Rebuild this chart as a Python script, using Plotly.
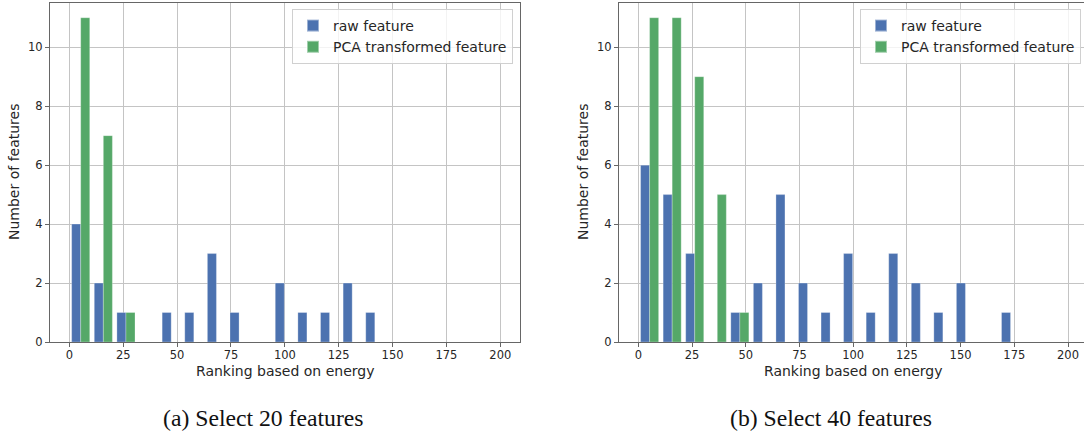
import plotly.graph_objects as go

# ---- data (histogram counts, 20 bins of width 10.5 starting at 0) ----
BIN_WIDTH = 10.5
N_BINS = 20
bin_centers = [BIN_WIDTH * i + BIN_WIDTH / 2 for i in range(N_BINS)]

left_raw = [4, 2, 1, 0, 1, 1, 3, 1, 0, 2, 1, 1, 2, 1, 0, 0, 0, 0, 0, 0]
left_pca = [11, 7, 1, 0, 0, 0, 0, 0, 0, 0, 0, 0, 0, 0, 0, 0, 0, 0, 0, 0]
right_raw = [6, 5, 3, 0, 1, 2, 5, 2, 1, 3, 1, 3, 2, 1, 2, 0, 1, 0, 0, 0]
right_pca = [11, 11, 9, 5, 1, 0, 0, 0, 0, 0, 0, 0, 0, 0, 0, 0, 0, 0, 0, 0]

x_ticks = [0, 25, 50, 75, 100, 125, 150, 175, 200]
y_ticks = [0, 2, 4, 6, 8, 10]
series_names = ["raw feature", "PCA transformed feature"]
captions = ["(a) Select 20 features", "(b) Select 40 features"]
x_title = "Ranking based on energy"
y_title = "Number of features"

BLUE = "#4C72B0"
GREEN = "#55A868"
W, H = 1084, 434

def nz(v):
    return [c if c != 0 else None for c in v]

edge = dict(width=0.6, color="rgba(255,255,255,0.45)")
fig = go.Figure()
fig.add_trace(go.Bar(x=bin_centers, y=nz(left_raw), name=series_names[0], marker_color=BLUE,
                     offsetgroup="a", xaxis="x", yaxis="y", legend="legend", marker_line=edge))
fig.add_trace(go.Bar(x=bin_centers, y=nz(left_pca), name=series_names[1], marker_color=GREEN,
                     offsetgroup="b", xaxis="x", yaxis="y", legend="legend", marker_line=edge))
fig.add_trace(go.Bar(x=bin_centers, y=nz(right_raw), name=series_names[0], marker_color=BLUE,
                     offsetgroup="a", xaxis="x2", yaxis="y2", legend="legend2", marker_line=edge))
fig.add_trace(go.Bar(x=bin_centers, y=nz(right_pca), name=series_names[1], marker_color=GREEN,
                     offsetgroup="b", xaxis="x2", yaxis="y2", legend="legend2", marker_line=edge))

TEXT = "#262626"
SPINE = "#666666"
GRID = "#c4c4c4"
tickfont = dict(family="DejaVu Sans", size=11.5, color=TEXT)

y_dom = [1 - 342 / H, 1 - 3 / H]
axis_common = dict(showgrid=True, gridcolor=GRID, gridwidth=1, zeroline=False,
                   showline=True, linecolor=SPINE, linewidth=1.2,
                   ticks="outside", ticklen=4, tickcolor=SPINE, tickwidth=1,
                   tickfont=tickfont, automargin=False)
xaxis_extra = dict(ticklabelstandoff=-2)

legend_common = dict(yanchor="top", xanchor="right",
                     bgcolor="rgba(255,255,255,0.8)", bordercolor="#d0d0d0", borderwidth=1,
                     font=dict(family="DejaVu Sans", size=14, color=TEXT),
                     tracegroupgap=0, itemsizing="constant")

fig.update_layout(
    width=W, height=H,
    margin=dict(l=0, r=0, t=0, b=0),
    paper_bgcolor="white", plot_bgcolor="white",
    barmode="group", bargap=0.2, bargroupgap=0,
    xaxis=dict(domain=[50 / W, 519.7 / W], range=[-9, 209], tickvals=x_ticks,
               anchor="y", mirror=True, **axis_common, **xaxis_extra),
    yaxis=dict(domain=y_dom, range=[0, 11.5], tickvals=y_ticks,
               anchor="x", mirror=True, **axis_common),
    xaxis2=dict(domain=[619 / W, 1.0], range=[-9, (W - 638) / 2.15], tickvals=x_ticks,
                anchor="y2", mirror=True, **axis_common, **xaxis_extra),
    yaxis2=dict(domain=y_dom, range=[0, 11.5], tickvals=y_ticks,
                anchor="x2", mirror=False, **axis_common),
    legend=dict(x=513 / W, y=1 - 9 / H, **legend_common),
    legend2=dict(x=1081 / W, y=1 - 9 / H, **legend_common),
    showlegend=True,
)

ann = []
for xc, yc in [(285, 14), (853, 583)]:
    ann.append(dict(text=x_title, x=xc / W, y=1 - 371 / H, xref="paper", yref="paper",
                    xanchor="center", yanchor="middle", showarrow=False,
                    font=dict(family="DejaVu Sans", size=14, color=TEXT)))
    ann.append(dict(text=y_title, x=yc / W, y=1 - 172 / H, xref="paper", yref="paper",
                    xanchor="center", yanchor="middle", textangle=-90, showarrow=False,
                    font=dict(family="DejaVu Sans", size=14, color=TEXT)))
for cap, xc in zip(captions, [263.5, 831]):
    ann.append(dict(text=cap, x=xc / W, y=1 - 418 / H, xref="paper", yref="paper",
                    xanchor="center", yanchor="middle", showarrow=False,
                    font=dict(family="Liberation Serif", size=23.7, color="#111")))
fig.update_layout(annotations=ann)

fig.write_html("out.html",
               config={"displayModeBar": False},
               post_script="document.body.style.margin='0';document.body.style.overflow='hidden';")
